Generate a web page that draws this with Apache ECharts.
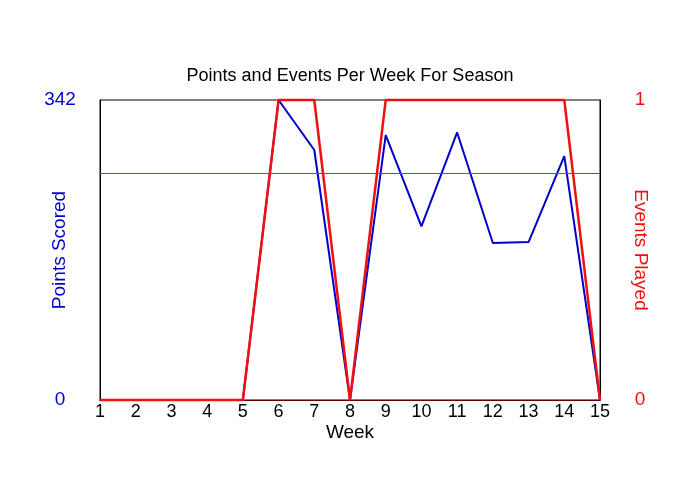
<!DOCTYPE html>
<html lang="en">
<head>
    <meta charset="UTF-8">
    <title>Points and Events Per Week For Season</title>
    <script src="https://cdn.jsdelivr.net/npm/echarts@6/dist/echarts.min.js"></script>
    <style>
        body { margin: 0; background: #fff; }
        #chart { width: 700px; height: 500px; }
    </style>
</head>
<body>
    <div id="chart"></div>

    <script>
        const weeks = ['1', '2', '3', '4', '5', '6', '7', '8', '9', '10', '11', '12', '13', '14', '15'];
        const pointsScored = [0, 0, 0, 0, 0, 342, 285, 0, 302, 198, 305, 179, 180, 278, 0];
        const eventsPlayed = [0, 0, 0, 0, 0, 1, 1, 0, 1, 1, 1, 1, 1, 1, 0];
        const pointsMax = 342;
        const eventsMax = 1;

        // average over the weeks that were actually played
        const played = pointsScored.filter(p => p > 0);
        const avgPoints = played.reduce((a, b) => a + b, 0) / played.length;

        const font = 'Liberation Sans, Arial, sans-serif';
        const blue = '#0000cc';
        const red = '#ee1111';

        const chart = echarts.init(document.getElementById('chart'));
        chart.setOption({
            animation: false,
            title: {
                text: 'Points and Events Per Week For Season',
                left: 'center',
                top: 62,
                textStyle: { fontFamily: font, fontSize: 18, fontWeight: 'normal', color: '#000' }
            },
            grid: {
                left: 100, right: 100, top: 100, bottom: 100,
                show: true, borderColor: '#000', borderWidth: 1, backgroundColor: 'transparent'
            },
            xAxis: [{
                type: 'category',
                data: weeks,
                boundaryGap: false,
                name: 'Week',
                nameLocation: 'middle',
                nameGap: 23,
                nameMoveOverlap: false,
                nameTextStyle: { fontFamily: font, fontSize: 19, color: '#000' },
                axisLine: { lineStyle: { color: '#000', width: 1 } },
                axisTick: { show: false },
                axisLabel: { margin: 3, fontFamily: font, fontSize: 18, color: '#000' },
                splitLine: { show: false }
            }, {
                type: 'category',
                data: weeks,
                boundaryGap: false,
                position: 'top',
                axisLine: { lineStyle: { color: '#600000', width: 1 } },
                axisTick: { show: false },
                axisLabel: { show: false },
                splitLine: { show: false }
            }],
            yAxis: [{
                type: 'value',
                min: 0,
                max: pointsMax,
                interval: pointsMax,
                position: 'left',
                name: 'Points Scored',
                nameLocation: 'middle',
                nameGap: 31,
                nameMoveOverlap: false,
                nameRotate: 90,
                nameTextStyle: { fontFamily: font, fontSize: 19, color: blue },
                axisLine: { show: true, lineStyle: { color: '#000' } },
                axisTick: { show: false },
                axisLabel: { margin: 40, align: 'center', fontFamily: font, fontSize: 19, color: blue },
                splitLine: { show: false }
            }, {
                type: 'value',
                min: 0,
                max: eventsMax,
                interval: eventsMax,
                position: 'right',
                name: 'Events Played',
                nameLocation: 'middle',
                nameGap: 31,
                nameMoveOverlap: false,
                nameRotate: -90,
                nameTextStyle: { fontFamily: font, fontSize: 19, color: red },
                axisLine: { show: true, lineStyle: { color: '#000' } },
                axisTick: { show: false },
                axisLabel: { margin: 40, align: 'center', fontFamily: font, fontSize: 19, color: red },
                splitLine: { show: false }
            }],
            series: [{
                name: 'Points Scored',
                type: 'line',
                data: pointsScored,
                yAxisIndex: 0,
                showSymbol: false,
                clip: false,
                lineStyle: { color: blue, width: 2 },
                markLine: {
                    silent: true,
                    symbol: ['none', 'none'],
                    label: { show: false },
                    lineStyle: { color: '#5050d0', width: 1, type: 'solid' },
                    data: [{ yAxis: avgPoints }]
                }
            }, {
                name: 'Events Played',
                type: 'line',
                data: eventsPlayed,
                yAxisIndex: 1,
                showSymbol: false,
                clip: false,
                lineStyle: { color: red, width: 2.5 }
            }]
        });
    </script>
</body>
</html>
